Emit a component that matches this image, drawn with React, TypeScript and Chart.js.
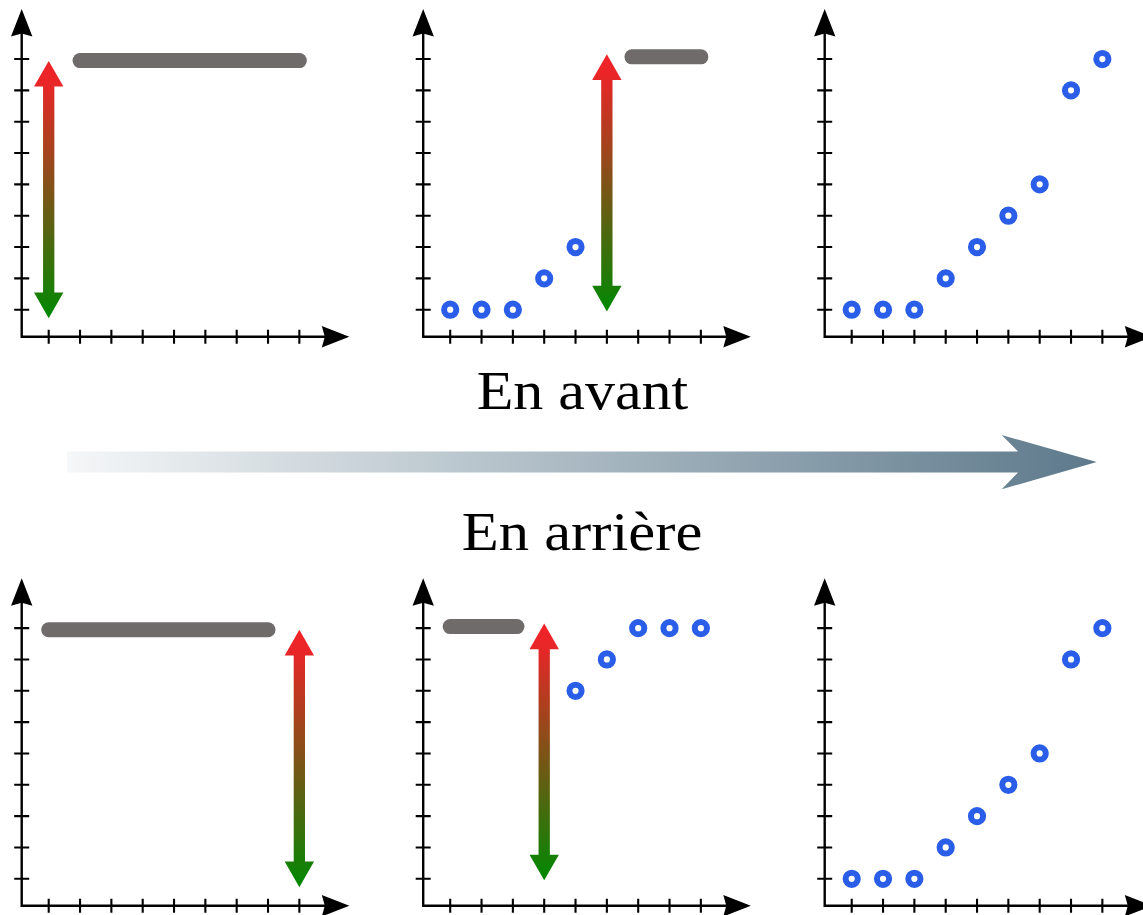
import React, { useEffect, useRef } from "react";
import { Chart, registerables } from "chart.js";

Chart.register(...registerables);

// ---- Data ----
const tickValues = [1, 2, 3, 4, 5, 6, 7, 8, 9];
const axisMin = 0.138;
const axisMax = 10.594;

// full series (right column)
const fullX = [1, 2, 3, 4, 5, 6, 7, 8, 9];
const fullY = [1, 1, 1, 2, 3, 4, 5, 8, 9];
// forward partial (top middle)
const fwdX = [1, 2, 3, 4, 5];
const fwdY = [1, 1, 1, 2, 3];
// backward partial (bottom middle)
const bwdX = [5, 6, 7, 8, 9];
const bwdY = [7, 8, 9, 9, 9];

// gray "unknown" bars: [xStart, xEnd], level
const barTopLeftX = [2, 9];
const barTopLeftY = 8.95;
const barTopMidX = [6.8, 9];
const barTopMidY = 9.07;
const barBotLeftX = [1, 8];
const barBotLeftY = 8.95;
const barBotMidX = [1, 3.13];
const barBotMidY = 9.05;

// red-green double arrows: x, top value, bottom value
const arrowTopLeft = [1, 8.94, 0.73];
const arrowTopMid = [6, 9.15, 0.94];
const arrowBotLeft = [9, 8.95, 0.73];
const arrowBotMid = [4, 9.15, 0.95];

const labelForward = "En avant";
const labelBackward = "En arrière";

// ---- Styling / layout ----
const SIZE = 327.6;
const CW = 360;
const CH = 360;
const BAR_COLOR = "#6f6b6b";
const POINT_COLOR = "#2a5de8";

type PanelProps = {
  ox: number;
  oy: number;
  barX?: number[];
  barY?: number;
  px?: number[];
  py?: number[];
  arrow?: number[];
};

function Panel({ ox, oy, barX, barY, px, py, arrow }: PanelProps) {
  const ref = useRef<HTMLCanvasElement | null>(null);
  const left = Math.floor(ox - 20);
  const top = Math.floor(oy - SIZE - 12);
  const padL = ox - left;
  const padR = CW - padL - SIZE;
  const padT = oy - SIZE - top;
  const padB = CH - padT - SIZE;

  useEffect(() => {
    if (!ref.current) return;
    const datasets: any[] = [];
    if (barX && barY !== undefined) {
      datasets.push({
        data: barX.map((x) => ({ x, y: barY })),
        borderColor: BAR_COLOR,
        borderWidth: 15,
        borderCapStyle: "round",
        pointRadius: 0,
        showLine: true,
        fill: false,
      });
    }
    if (px && py) {
      datasets.push({
        data: px.map((x, i) => ({ x, y: py[i] })),
        showLine: false,
        pointRadius: 6.1,
        pointBorderWidth: 6,
        pointBorderColor: POINT_COLOR,
        pointBackgroundColor: "#ffffff",
        borderColor: POINT_COLOR,
        backgroundColor: "#ffffff",
      });
    }

    const plugin = {
      id: "customAxes",
      beforeDatasetsDraw(chart: any) {
        const { ctx } = chart;
        const xs = chart.scales.x;
        const ys = chart.scales.y;
        const x0 = xs.getPixelForValue(axisMin);
        const y0 = ys.getPixelForValue(axisMin);
        const xe = xs.getPixelForValue(axisMax);
        const ye = ys.getPixelForValue(axisMax);
        ctx.save();
        ctx.strokeStyle = "#000";
        ctx.fillStyle = "#000";
        ctx.lineWidth = 2.4;
        ctx.lineJoin = "miter";
        ctx.beginPath();
        ctx.moveTo(x0, ye + 20);
        ctx.lineTo(x0, y0);
        ctx.lineTo(xe - 20, y0);
        ctx.stroke();
        ctx.lineWidth = 2.1;
        ctx.beginPath();
        for (const v of tickValues) {
          const tx = xs.getPixelForValue(v);
          ctx.moveTo(tx, y0 - 7);
          ctx.lineTo(tx, y0 + 7);
          const ty = ys.getPixelForValue(v);
          ctx.moveTo(x0 - 7.5, ty);
          ctx.lineTo(x0 + 7.5, ty);
        }
        ctx.stroke();
        const L = 27.5;
        const W = 10.7;
        const N = 3;
        // x arrow head
        ctx.beginPath();
        ctx.moveTo(xe, y0);
        ctx.lineTo(xe - L, y0 - W);
        ctx.lineTo(xe - L + N, y0);
        ctx.lineTo(xe - L, y0 + W);
        ctx.closePath();
        ctx.fill();
        // y arrow head
        ctx.beginPath();
        ctx.moveTo(x0, ye);
        ctx.lineTo(x0 - W, ye + L);
        ctx.lineTo(x0, ye + L - N);
        ctx.lineTo(x0 + W, ye + L);
        ctx.closePath();
        ctx.fill();
        ctx.restore();
      },
      afterDatasetsDraw(chart: any) {
        if (!arrow) return;
        const { ctx } = chart;
        const xs = chart.scales.x;
        const ys = chart.scales.y;
        const ax = xs.getPixelForValue(arrow[0]);
        const pt = ys.getPixelForValue(arrow[1]);
        const pb = ys.getPixelForValue(arrow[2]);
        const hw = 14.7;
        const sw = 5.65;
        const hl = 25.7;
        const g = ctx.createLinearGradient(0, pt, 0, pb);
        g.addColorStop(0, "#f02428");
        g.addColorStop(0.08, "#ea2528");
        g.addColorStop(1, "#008902");
        ctx.save();
        ctx.fillStyle = g;
        ctx.beginPath();
        ctx.moveTo(ax, pt);
        ctx.lineTo(ax + hw, pt + hl);
        ctx.lineTo(ax + sw, pt + hl);
        ctx.lineTo(ax + sw, pb - hl);
        ctx.lineTo(ax + hw, pb - hl);
        ctx.lineTo(ax, pb);
        ctx.lineTo(ax - hw, pb - hl);
        ctx.lineTo(ax - sw, pb - hl);
        ctx.lineTo(ax - sw, pt + hl);
        ctx.lineTo(ax - hw, pt + hl);
        ctx.closePath();
        ctx.fill();
        ctx.restore();
      },
    };

    const chart = new Chart(ref.current, {
      type: "line",
      data: { datasets },
      options: {
        animation: false,
        responsive: false,
        maintainAspectRatio: false,
        devicePixelRatio: 1,
        events: [],
        layout: {
          autoPadding: false,
          padding: { left: padL, right: padR, top: padT, bottom: padB },
        },
        plugins: {
          legend: { display: false },
          tooltip: { enabled: false },
        },
        scales: {
          x: { type: "linear", min: axisMin, max: axisMax, display: false },
          y: { type: "linear", min: axisMin, max: axisMax, display: false },
        },
      } as any,
      plugins: [plugin],
    });
    return () => chart.destroy();
  }, []);

  return (
    <canvas
      ref={ref}
      width={CW}
      height={CH}
      style={{
        position: "absolute",
        left,
        top,
        width: CW,
        height: CH,
        display: "block",
      }}
    />
  );
}

export default function App() {
  const colX = [21.7, 423.2, 824.7];
  const rowY = [336.7, 905.8];
  return (
    <div
      style={{
        position: "absolute",
        left: 0,
        top: 0,
        width: 1143,
        height: 915,
        overflow: "hidden",
        background: "#fff",
      }}
    >
      <svg
        width={1143}
        height={915}
        style={{ position: "absolute", left: 0, top: 0 }}
      >
        <defs>
          <linearGradient id="bigArrow" x1="67" y1="0" x2="1097" y2="0" gradientUnits="userSpaceOnUse">
            <stop offset="0" stopColor="#f5f7f8" />
            <stop offset="1" stopColor="#5d798b" />
          </linearGradient>
        </defs>
        <path
          d="M67,451.5 L1018,451.5 L1001.7,435 L1096.7,462 L1001.7,489.3 L1018,472.5 L67,472.5 Z"
          fill="url(#bigArrow)"
        />
        <text
          x={582.5}
          y={409.3}
          textAnchor="middle"
          fontFamily="'Liberation Serif', 'DejaVu Serif', serif"
          fontSize={54}
          textLength={211.6}
          lengthAdjust="spacingAndGlyphs"
          fill="#000"
        >
          {labelForward}
        </text>
        <text
          x={582}
          y={550}
          textAnchor="middle"
          fontFamily="'Liberation Serif', 'DejaVu Serif', serif"
          fontSize={54}
          textLength={240.6}
          lengthAdjust="spacingAndGlyphs"
          fill="#000"
        >
          {labelBackward}
        </text>
      </svg>
      <Panel ox={colX[0]} oy={rowY[0]} barX={barTopLeftX} barY={barTopLeftY} arrow={arrowTopLeft} />
      <Panel ox={colX[1]} oy={rowY[0]} barX={barTopMidX} barY={barTopMidY} px={fwdX} py={fwdY} arrow={arrowTopMid} />
      <Panel ox={colX[2]} oy={rowY[0]} px={fullX} py={fullY} />
      <Panel ox={colX[0]} oy={rowY[1]} barX={barBotLeftX} barY={barBotLeftY} arrow={arrowBotLeft} />
      <Panel ox={colX[1]} oy={rowY[1]} barX={barBotMidX} barY={barBotMidY} px={bwdX} py={bwdY} arrow={arrowBotMid} />
      <Panel ox={colX[2]} oy={rowY[1]} px={fullX} py={fullY} />
    </div>
  );
}
